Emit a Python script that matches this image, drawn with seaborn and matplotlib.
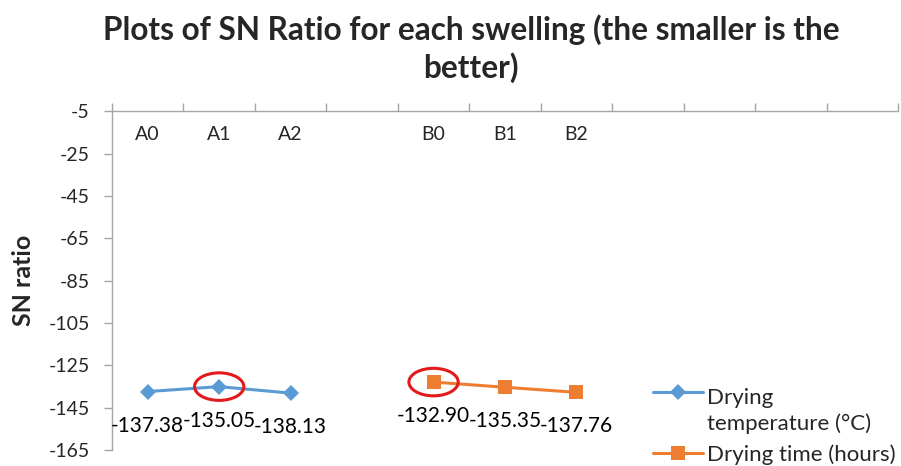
import numpy as np
import pandas as pd
import matplotlib
matplotlib.use("Agg")
import matplotlib.pyplot as plt
from matplotlib.patches import Ellipse
from matplotlib.ticker import FixedLocator, NullFormatter
import seaborn as sns

# Category slots along the top axis (blank slots keep the spacing)
categories = ["A0", "A1", "A2", "", "B0", "B1", "B2", "", "", "", ""]

temp_levels = ["A0", "A1", "A2"]
temp_sn = [-137.38, -135.05, -138.13]

time_levels = ["B0", "B1", "B2"]
time_sn = [-132.90, -135.35, -137.76]

y_ticks = [-5, -25, -45, -65, -85, -105, -125, -145, -165]

BLUE = "#5B9BD5"
ORANGE = "#ED7D31"
RED = "#E31A1C"
AXIS_GRAY = "#A6A6A6"

sns.set_theme(style="white")
plt.rcParams["font.family"] = ["Lato", "DejaVu Sans"]
plt.rcParams["axes.unicode_minus"] = False

pos = {c: i for i, c in enumerate(categories) if c}
df = pd.concat([
    pd.DataFrame({"level": temp_levels, "sn": temp_sn,
                  "factor": "Drying\ntemperature (°C)"}),
    pd.DataFrame({"level": time_levels, "sn": time_sn,
                  "factor": "Drying time (hours)"}),
], ignore_index=True)
df["x"] = df["level"].map(pos)

fig = plt.figure(figsize=(9.01, 4.66), dpi=100)
ax = fig.add_axes([0.1243, 0.0343, 0.8724, 0.7268])

series_style = {
    "Drying\ntemperature (°C)": dict(color=BLUE, marker="D", markersize=8.5),
    "Drying time (hours)": dict(color=ORANGE, marker="s", markersize=10),
}
for name, sub in df.groupby("factor", sort=False):
    st = series_style[name]
    sns.lineplot(data=sub, x="x", y="sn", ax=ax, color=st["color"],
                 marker=st["marker"], markersize=st["markersize"],
                 markeredgewidth=0, linewidth=2.2, sort=False, label=name)
    for xv, yv in zip(sub["x"], sub["sn"]):
        ax.annotate(f"{yv:.2f}", (xv, yv), xytext=(0, -24.5),
                    textcoords="offset points", ha="center", va="center",
                    fontsize=15, color="black")
    # ring the best (largest) SN ratio of each factor
    best = sub.loc[sub["sn"].idxmax()]
    ax.add_patch(Ellipse((best["x"], best["sn"]), width=0.69, height=13,
                         fill=False, edgecolor=RED, linewidth=2.2, zorder=5))

ax.set_xlim(-0.5, len(categories) - 0.5)
ax.set_ylim(-165, -5)
ax.set_yticks(y_ticks)
ax.set_ylabel("SN ratio", fontsize=18, fontweight="bold", labelpad=10)
ax.set_xlabel("")

# category axis sits on top: boundary ticks, labels centred in each slot
ax.xaxis.set_major_locator(FixedLocator(np.arange(-0.5, len(categories), 1.0)))
ax.xaxis.set_major_formatter(NullFormatter())
ax.xaxis.set_minor_locator(FixedLocator(np.arange(len(categories))))
ax.set_xticklabels(categories, minor=True)
ax.tick_params(axis="x", which="major", bottom=False, top=True,
               direction="out", length=6, color=AXIS_GRAY, width=1)
ax.tick_params(axis="x", which="minor", bottom=False, top=False,
               labelbottom=False, labeltop=True, length=0, pad=-23,
               labelsize=14)
ax.tick_params(axis="y", left=True, direction="out", length=6,
               color=AXIS_GRAY, width=1, labelsize=14, pad=10)

for side in ("bottom", "right"):
    ax.spines[side].set_visible(False)
for side in ("left", "top"):
    ax.spines[side].set_color(AXIS_GRAY)
    ax.spines[side].set_linewidth(1)
ax.grid(False)

leg = ax.legend(loc="upper left", bbox_to_anchor=(0.7247, 0.168),
                bbox_transform=fig.transFigure, frameon=False, fontsize=16,
                handlelength=2.25, handletextpad=0.2, labelspacing=0.45,
                borderpad=0, borderaxespad=0)
leg.get_texts()[0].set_linespacing(1.35)
# put the wrapped entry's key beside its first line
first = leg.legend_handles[0]
first.set_ydata(np.asarray(first.get_ydata()) + 14)

fig.suptitle("Plots of SN Ratio for each swelling (the smaller is the\nbetter)",
             x=0.523, y=0.97, fontsize=22.7, fontweight="bold", linespacing=1.3)

fig.savefig("out.png", dpi=100)
